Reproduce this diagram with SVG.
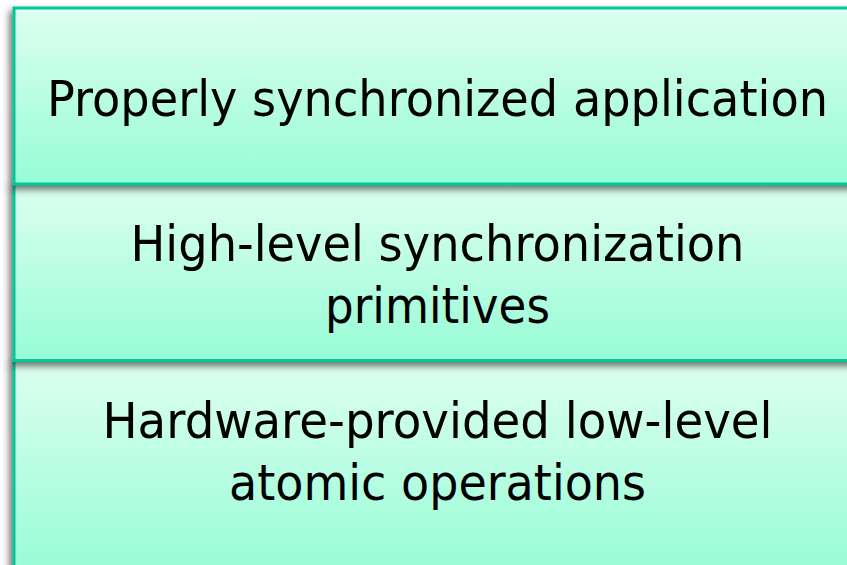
<svg xmlns="http://www.w3.org/2000/svg" width="847" height="565" viewBox="0 0 847 565">
  <style>
    .box { fill: url(#g); stroke: #00C896; stroke-width: 3; filter: url(#sh); }
    .t { font-family: "DejaVu Sans", Verdana, sans-serif; font-size: 50px; fill: #000; text-anchor: middle; }
  </style>
  <defs>
    <linearGradient id="g" x1="0" y1="0" x2="0" y2="1">
      <stop offset="0" stop-color="#DDFFF0"/>
      <stop offset="1" stop-color="#96FCD6"/>
    </linearGradient>
    <filter id="sh" x="-10%" y="-10%" width="120%" height="130%">
      <feDropShadow dx="-3" dy="4" stdDeviation="3.5" flood-color="#303030" flood-opacity="0.7"/>
    </filter>
  </defs>
  <g id="box3">
    <rect class="box" x="14" y="360.5" width="850" height="215"/>
    <text class="t" x="437.5" y="438" textLength="670" lengthAdjust="spacingAndGlyphs">Hardware-provided low-level</text>
    <text class="t" x="437.5" y="500" textLength="417" lengthAdjust="spacingAndGlyphs">atomic operations</text>
  </g>
  <g id="box2">
    <rect class="box" x="14" y="184" width="850" height="176.5"/>
    <text class="t" x="437.5" y="261" textLength="614" lengthAdjust="spacingAndGlyphs">High-level synchronization</text>
    <text class="t" x="437.5" y="323" textLength="225" lengthAdjust="spacingAndGlyphs">primitives</text>
  </g>
  <g id="box1">
    <rect class="box" x="14" y="8" width="850" height="176"/>
    <text class="t" x="437.5" y="116" textLength="781" lengthAdjust="spacingAndGlyphs">Properly synchronized application</text>
  </g>
  <g id="connectors"/>
</svg>
